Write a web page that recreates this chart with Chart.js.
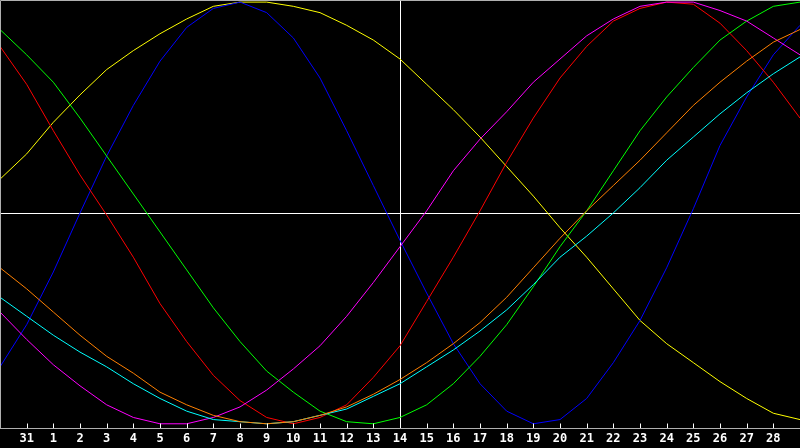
<!DOCTYPE html>
<html>
<head>
<meta charset="utf-8">
<script src="https://cdn.jsdelivr.net/npm/chart.js@4/dist/chart.umd.min.js"></script>
<style>
  html, body { margin: 0; padding: 0; background: #000; }
  #wrap { width: 800px; height: 448px; }
</style>
</head>
<body>
<div id="wrap"><canvas id="chartCanvas" width="800" height="448"></canvas></div>
<script>
// --- Data ---
// day labels for positions 0..30 (first and last are not printed)
const dayLabels = ["30", "31", "1", "2", "3", "4", "5", "6", "7", "8", "9", "10", "11", "12", "13",
  "14", "15", "16", "17", "18", "19", "20", "21", "22", "23", "24", "25", "26", "27", "28", "29"];
const todayPos = 15;

const yellowVals = [16, 28, 43, 56, 68, 77, 85, 92, 98, 100, 100, 98, 95, 89, 82, 73,
  61, 49, 36, 22, 8, -7, -21, -36, -51, -62, -71, -80, -88, -95, -98];
const blueVals = [-73, -53, -28, 0, 27, 51, 72, 88, 97, 100, 95, 83, 64, 39, 13, -13,
  -38, -62, -81, -94, -100, -98, -88, -71, -51, -26, 2, 32, 55, 75, 89];
const redVals = [79, 61, 39, 18, -1, -21, -43, -61, -77, -89, -97, -100, -97, -91, -78, -63,
  -42, -21, 1, 24, 45, 64, 79, 91, 97, 100, 99, 90, 77, 62, 45];
const greenVals = [87, 75, 62, 45, 27, 9, -9, -27, -45, -61, -75, -85, -94, -99, -100, -97,
  -91, -81, -68, -53, -35, -16, 1, 20, 39, 55, 69, 82, 91, 98, 100];
const magentaVals = [-47, -60, -72, -82, -91, -97, -100, -100, -97, -92, -84, -74, -63, -49, -33, -16,
  1, 20, 35, 48, 62, 73, 84, 92, 98, 100, 100, 96, 91, 83, 75];
const orangeVals = [-26, -36, -47, -58, -68, -76, -85, -91, -96, -99, -100, -99, -96, -92, -86, -79,
  -71, -62, -52, -40, -26, -12, 1, 13, 25, 38, 51, 62, 72, 81, 87];
const cyanVals = [-40, -49, -58, -66, -73, -81, -88, -94, -98, -99, -100, -99, -96, -93, -87, -81,
  -73, -65, -56, -46, -34, -21, -11, 0, 12, 25, 36, 47, 57, 66, 74];

const seriesList = [
  { vals: orangeVals, color: "#ff8000" },
  { vals: cyanVals, color: "#00ffff" },
  { vals: magentaVals, color: "#ff00ff" },
  { vals: greenVals, color: "#00ff00" },
  { vals: redVals, color: "#ff0000" },
  { vals: blueVals, color: "#0000ff" },
  { vals: yellowVals, color: "#ffff00" }
];

const toPoints = vals => vals.map((v, i) => ({ x: i, y: v }));

// --- Plugin: background, frame, crosshair, tick marks ---
const frame = {
  id: "frame",
  beforeDraw(chart) {
    const ctx = chart.ctx;
    ctx.save();
    ctx.fillStyle = "#000";
    ctx.fillRect(0, 0, chart.width, chart.height);
    ctx.restore();
  },
  beforeDatasetsDraw(chart) {
    const { ctx, chartArea: a, scales } = chart;
    const cx = Math.round(scales.x.getPixelForValue(todayPos)) + 0.5;
    const cy = Math.round(scales.y.getPixelForValue(0)) + 0.5;
    ctx.save();
    ctx.lineWidth = 1;
    ctx.strokeStyle = "#ffffff";
    ctx.beginPath();
    ctx.moveTo(cx, a.top);
    ctx.lineTo(cx, a.bottom);
    ctx.moveTo(0, cy);
    ctx.lineTo(chart.width, cy);
    ctx.stroke();
    ctx.restore();
  },
  afterDatasetsDraw(chart) {
    const { ctx, chartArea: a, scales } = chart;
    const base = Math.round(a.bottom) + 0.5;
    ctx.save();
    ctx.lineWidth = 1;
    // frame: left, top, axis line
    ctx.strokeStyle = "#b0b0b0";
    ctx.beginPath();
    ctx.moveTo(0.5, base);
    ctx.lineTo(0.5, 0.5);
    ctx.lineTo(chart.width, 0.5);
    ctx.moveTo(0, base);
    ctx.lineTo(chart.width, base);
    ctx.stroke();
    // tick marks pointing up
    ctx.strokeStyle = "#ffffff";
    ctx.beginPath();
    for (let i = 1; i < dayLabels.length - 1; i++) {
      const px = Math.round(scales.x.getPixelForValue(i)) + 0.5;
      ctx.moveTo(px, base - 5);
      ctx.lineTo(px, base - 0.5);
    }
    ctx.stroke();
    ctx.restore();
  }
};

const canvas = document.getElementById("chartCanvas");

new Chart(canvas, {
  type: "line",
  data: {
    datasets: seriesList.map(s => ({
      data: toPoints(s.vals),
      borderColor: s.color,
      borderWidth: 1,
      pointRadius: 0,
      tension: 0,
      fill: false
    }))
  },
  options: {
    responsive: false,
    animation: false,
    devicePixelRatio: 1,
    layout: { padding: 0 },
    plugins: {
      legend: { display: false },
      tooltip: { enabled: false }
    },
    scales: {
      x: {
        type: "linear",
        min: 0,
        max: 30,
        grid: { display: false, drawTicks: false },
        border: { display: false },
        afterFit: scale => {
          scale.height = 20;
          scale.paddingLeft = 0;
          scale.paddingRight = 0;
        },
        ticks: {
          stepSize: 1,
          autoSkip: false,
          maxRotation: 0,
          padding: 4,
          color: "#ffffff",
          font: { family: "DejaVu Sans Mono", size: 12, weight: "bold" },
          callback: v => (v > 0 && v < 30 ? dayLabels[v] : "")
        }
      },
      y: {
        display: false,
        min: -102,
        max: 101
      }
    }
  },
  plugins: [frame]
});
</script>
</body>
</html>
